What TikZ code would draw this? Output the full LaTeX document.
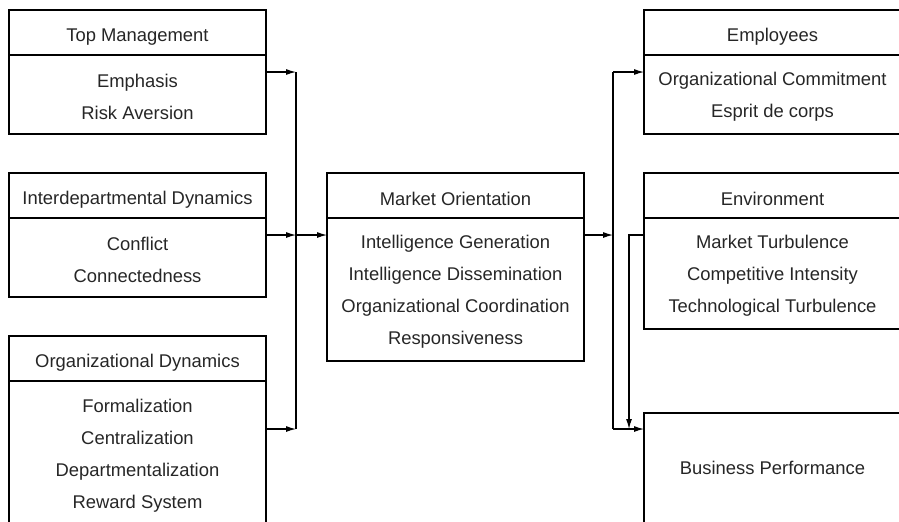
\documentclass[tikz,border=0pt]{standalone}
\usepackage{fontspec}
\setmainfont{Liberation Sans}
\usetikzlibrary{positioning,arrows.meta}
\newcommand{\bodystrut}{\rule{0pt}{9.2pt}}
\begin{document}
\begin{tikzpicture}[x=0.5pt,y=-0.5pt,
		font=\fontsize{9.2}{16}\selectfont,
		frame/.style={draw,line width=0.65pt,minimum width=128.5pt,inner sep=0pt,
			outer sep=0pt,text=black!85},
		head/.style={frame,anchor=north west,minimum height=22.5pt,
			execute at begin node=\rule{0pt}{10.5pt}},
		body/.style={frame,align=center},
		arr/.style={line width=0.55pt,-{Latex[length=5pt,width=3pt]}}]
		\clip (0,0) rectangle (899,521);
		%left column
		\node[head] (tmhead) at (9,10) {Top Management};
		\node[body,minimum height=39.5pt,below=0pt of tmhead] (tmbody) {\bodystrut Emphasis\\Risk Aversion};
		\node[head] (idhead) at (9,173) {Interdepartmental Dynamics};
		\node[body,minimum height=39.5pt,below=0pt of idhead] (idbody) {\bodystrut Conflict\\Connectedness};
		\node[head] (odhead) at (9,336) {Organizational Dynamics};
		\node[body,minimum height=72pt,below=0pt of odhead] (odbody) {\bodystrut Formalization\\Centralization\\Departmentalization\\Reward System};
		%middle
		\node[head] (mohead) at (327,173) {Market Orientation};
		\node[body,minimum height=71.5pt,below=0pt of mohead] (mobody) {\bodystrut Intelligence Generation\\Intelligence Dissemination\\Organizational Coordination\\Responsiveness};
		%right column
		\node[head] (emphead) at (644,10) {Employees};
		\node[body,minimum height=39.5pt,below=0pt of emphead] (empbody) {\bodystrut Organizational Commitment\\Esprit de corps};
		\node[head] (envhead) at (644,173) {Environment};
		\node[body,minimum height=55.5pt,below=0pt of envhead] (envbody) {\bodystrut Market Turbulence\\Competitive Intensity\\Technological Turbulence};
		\node[frame,anchor=north west,minimum height=55pt] (bp) at (644,413) {Business Performance};
		%left bus
		\coordinate (ltop) at ([xshift=15pt,yshift=-8.5pt]tmbody.north east);
		\coordinate (lmid) at ([xshift=15pt,yshift=-8.5pt]idbody.north east);
		\coordinate (lbot) at ([xshift=15pt,yshift=-24pt]odbody.north east);
		\draw[arr] (tmbody.east |- ltop) -- (ltop);
		\draw[arr] (idbody.east |- lmid) -- (lmid);
		\draw[arr] (odbody.east |- lbot) -- (lbot);
		\draw[line width=0.55pt] (ltop) -- (lbot);
		\draw[arr] (lmid) -- (mobody.west |- lmid);
		%right bus
		\coordinate (rmid) at ([xshift=14.5pt,yshift=-8.5pt]mobody.north east);
		\coordinate (empin) at ([yshift=-8.5pt]empbody.north west);
		\coordinate (bpin) at ([yshift=-8pt]bp.north west);
		\coordinate (envout) at ([yshift=-8.5pt]envbody.north west);
		\coordinate (envx) at ([xshift=-7.5pt]envout);
		\draw[arr] (mobody.east |- rmid) -- (rmid);
		\draw[line width=0.55pt] (rmid |- empin) -- (rmid |- bpin);
		\draw[arr] (rmid |- empin) -- (empin);
		\draw[arr] (rmid |- bpin) -- (bpin);
		\draw[arr] (envout) -- (envx) -- (envx |- bpin);
\end{tikzpicture}
\end{document}
